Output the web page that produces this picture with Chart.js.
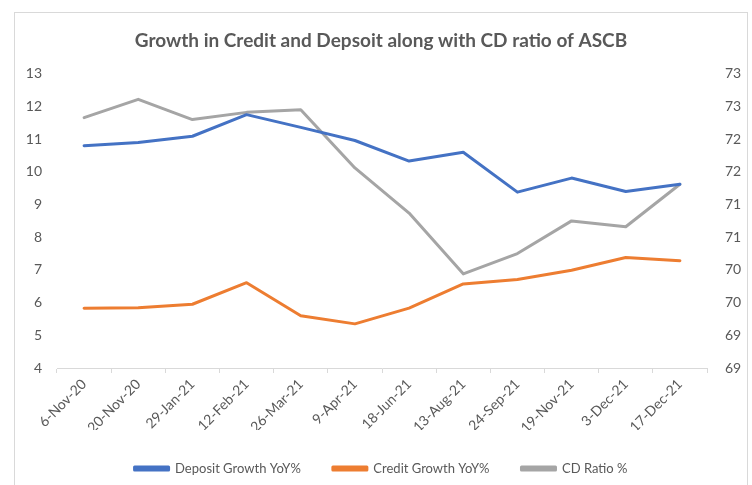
<!DOCTYPE html>
<html lang="en">
  <head>
    <meta charset="UTF-8" />
    <title>Growth in Credit and Depsoit along with CD ratio of ASCB</title>
    <style>
      body {
        margin: 0;
        background: #fff;
        overflow: hidden;
      }
      .frame {
        position: absolute;
        left: 14px;
        top: 12px;
        width: 734px;
        height: 480px;
        border: 1px solid #d9d9d9;
        box-sizing: border-box;
      }
    </style>
    <script src="https://cdn.jsdelivr.net/npm/chart.js"></script>
  </head>
  <body>
    <div class="frame">
      <canvas id="cdChart" width="732" height="478"></canvas>
    </div>
    <script>
      const dates = [
        "6-Nov-20", "20-Nov-20", "29-Jan-21", "12-Feb-21", "26-Mar-21", "9-Apr-21",
        "18-Jun-21", "13-Aug-21", "24-Sep-21", "19-Nov-21", "3-Dec-21", "17-Dec-21",
      ];
      const depositGrowth = [10.80, 10.90, 11.09, 11.75, 11.36, 10.96, 10.33, 10.60, 9.38, 9.81, 9.40, 9.62];
      const creditGrowth = [5.83, 5.84, 5.95, 6.61, 5.60, 5.35, 5.83, 6.57, 6.71, 6.99, 7.38, 7.28];
      const cdRatio = [72.33, 72.61, 72.30, 72.41, 72.45, 71.56, 70.87, 69.94, 70.25, 70.75, 70.66, 71.31];

      const FONT = "Lato, Calibri, 'Open Sans', sans-serif";
      const TEXT = "#595959";

      const data = {
        labels: dates,
        datasets: [
          {
            label: "Deposit Growth YoY%",
            data: depositGrowth,
            borderColor: "#4472c4",
            backgroundColor: "#4472c4",
            yAxisID: "y",
          },
          {
            label: "Credit Growth YoY%",
            data: creditGrowth,
            borderColor: "#ed7d31",
            backgroundColor: "#ed7d31",
            yAxisID: "y",
          },
          {
            label: "CD Ratio %",
            data: cdRatio,
            borderColor: "#a5a5a5",
            backgroundColor: "#a5a5a5",
            yAxisID: "y1",
          },
        ],
      };

      const config = {
        type: "line",
        data: data,
        options: {
          responsive: false,
          animation: false,
          layout: { padding: { left: 0, right: 0, top: 0, bottom: 6 } },
          elements: {
            line: { borderWidth: 3, tension: 0, borderCapStyle: "round", borderJoinStyle: "round" },
            point: { radius: 0 },
          },
          plugins: {
            title: {
              display: true,
              text: "Growth in Credit and Depsoit along with CD ratio of ASCB",
              color: TEXT,
              font: { family: FONT, size: 19, weight: "bold" },
              padding: { top: 16, bottom: 22 },
            },
            legend: {
              position: "bottom",
              labels: {
                color: TEXT,
                font: { family: FONT, size: 13 },
                boxWidth: 34,
                boxHeight: 3,
                padding: 32,
              },
            },
            tooltip: { enabled: false },
          },
          scales: {
            x: {
              offset: true,
              grid: {
                display: true,
                drawOnChartArea: false,
                offset: true,
                tickLength: 5,
                color: "#d9d9d9",
              },
              border: { display: true, color: "#d9d9d9" },
              ticks: {
                color: TEXT,
                font: { family: FONT, size: 14 },
                minRotation: 45,
                maxRotation: 45,
                autoSkip: false,
              },
              afterFit: function (scale) {
                scale.height = 62;
              },
            },
            y: {
              position: "left",
              min: 4,
              max: 13,
              ticks: {
                stepSize: 1,
                color: TEXT,
                font: { family: FONT, size: 14 },
                padding: 7,
              },
              grid: { display: false },
              border: { display: false },
              afterFit: function (scale) {
                scale.width = 42;
              },
            },
            y1: {
              position: "right",
              min: 68.5,
              max: 73,
              ticks: {
                stepSize: 0.5,
                color: TEXT,
                font: { family: FONT, size: 14 },
                padding: 10,
                callback: function (value) {
                  return Math.round(value).toString();
                },
              },
              grid: { display: false },
              border: { display: false },
              afterFit: function (scale) {
                scale.width = 40;
              },
            },
          },
        },
      };

      const cdChart = new Chart(document.getElementById("cdChart"), config);
    </script>
  </body>
</html>
